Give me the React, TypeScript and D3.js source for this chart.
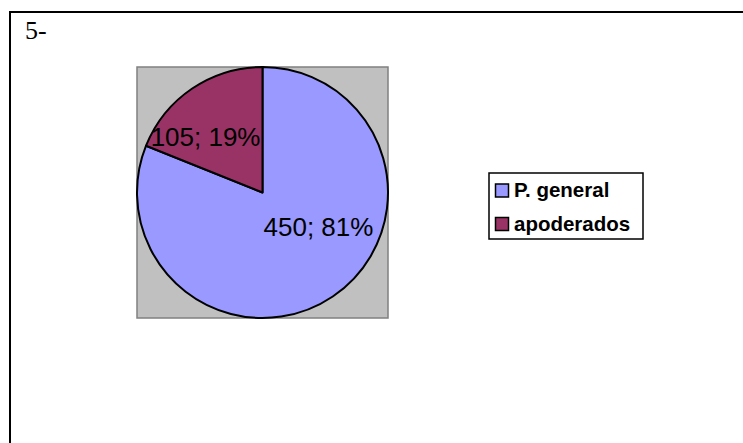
import React from "react";
import * as d3 from "d3";

const categories = ["P. general", "apoderados"];
const values = [450, 105];
const percentLabels = ["81%", "19%"];
const colors = ["#9999ff", "#993366"];
const chartTitle = "5-";

const W = 743;
const H = 443;
const cx = 262.5;
const cy = 192.5;
const R = 125.5;

export default function App() {
  const pie = d3.pie<number>().sort(null).value((d) => d);
  const arcs = pie(values);
  const arc = d3.arc<d3.PieArcDatum<number>>().innerRadius(0).outerRadius(R);

  const labelLayout = [
    { anchor: "start", dx: 1, dy: 43 },
    { anchor: "end", dx: -2, dy: -47 },
  ];

  const legendX = 489;
  const legendY = 173;
  const legendW = 154;
  const legendH = 66;
  const rowStep = 33.5;

  return (
    <svg
      width={W}
      height={H}
      style={{ position: "absolute", left: 0, top: 0, background: "#fff" }}
    >
      <rect x={0} y={0} width={W} height={H} fill="#fff" />
      <rect x={10} y={12} width={W + 50} height={H + 50} fill="none" stroke="#000" strokeWidth={2} />
      <text
        x={25}
        y={39}
        style={{ fontFamily: "'Liberation Serif', 'Times New Roman', serif", fontSize: "26px" }}
        fill="#000"
      >
        {chartTitle}
      </text>

      <rect
        x={cx - R}
        y={cy - R}
        width={2 * R}
        height={2 * R}
        fill="#c0c0c0"
        stroke="#808080"
        strokeWidth={1.5}
      />
      <g transform={`translate(${cx},${cy})`}>
        {arcs.map((a, i) => (
          <path key={i} d={arc(a) || ""} fill={colors[i]} stroke="#000" strokeWidth={2} strokeLinejoin="round" />
        ))}
        {arcs.map((a, i) => (
          <text
            key={"l" + i}
            x={labelLayout[i].dx}
            y={labelLayout[i].dy}
            textAnchor={labelLayout[i].anchor}
            fontFamily="Liberation Sans, Arial, sans-serif"
            fontSize={26}
            fill="#000"
          >
            {`${values[i]}; ${percentLabels[i]}`}
          </text>
        ))}
      </g>

      <rect x={legendX} y={legendY} width={legendW} height={legendH} fill="#fff" stroke="#000" strokeWidth={1.5} />
      {categories.map((c, i) => (
        <g key={c} transform={`translate(${legendX + 6},${legendY + 11 + i * rowStep})`}>
          <rect x={0.5} y={0} width={13} height={13} fill={colors[i]} stroke="#000" strokeWidth={1.5} />
          <text
            x={19}
            y={13}
            fontFamily="Liberation Sans, Arial, sans-serif"
            fontWeight="bold"
            fontSize={20.5}
            fill="#000"
          >
            {c}
          </text>
        </g>
      ))}
    </svg>
  );
}
